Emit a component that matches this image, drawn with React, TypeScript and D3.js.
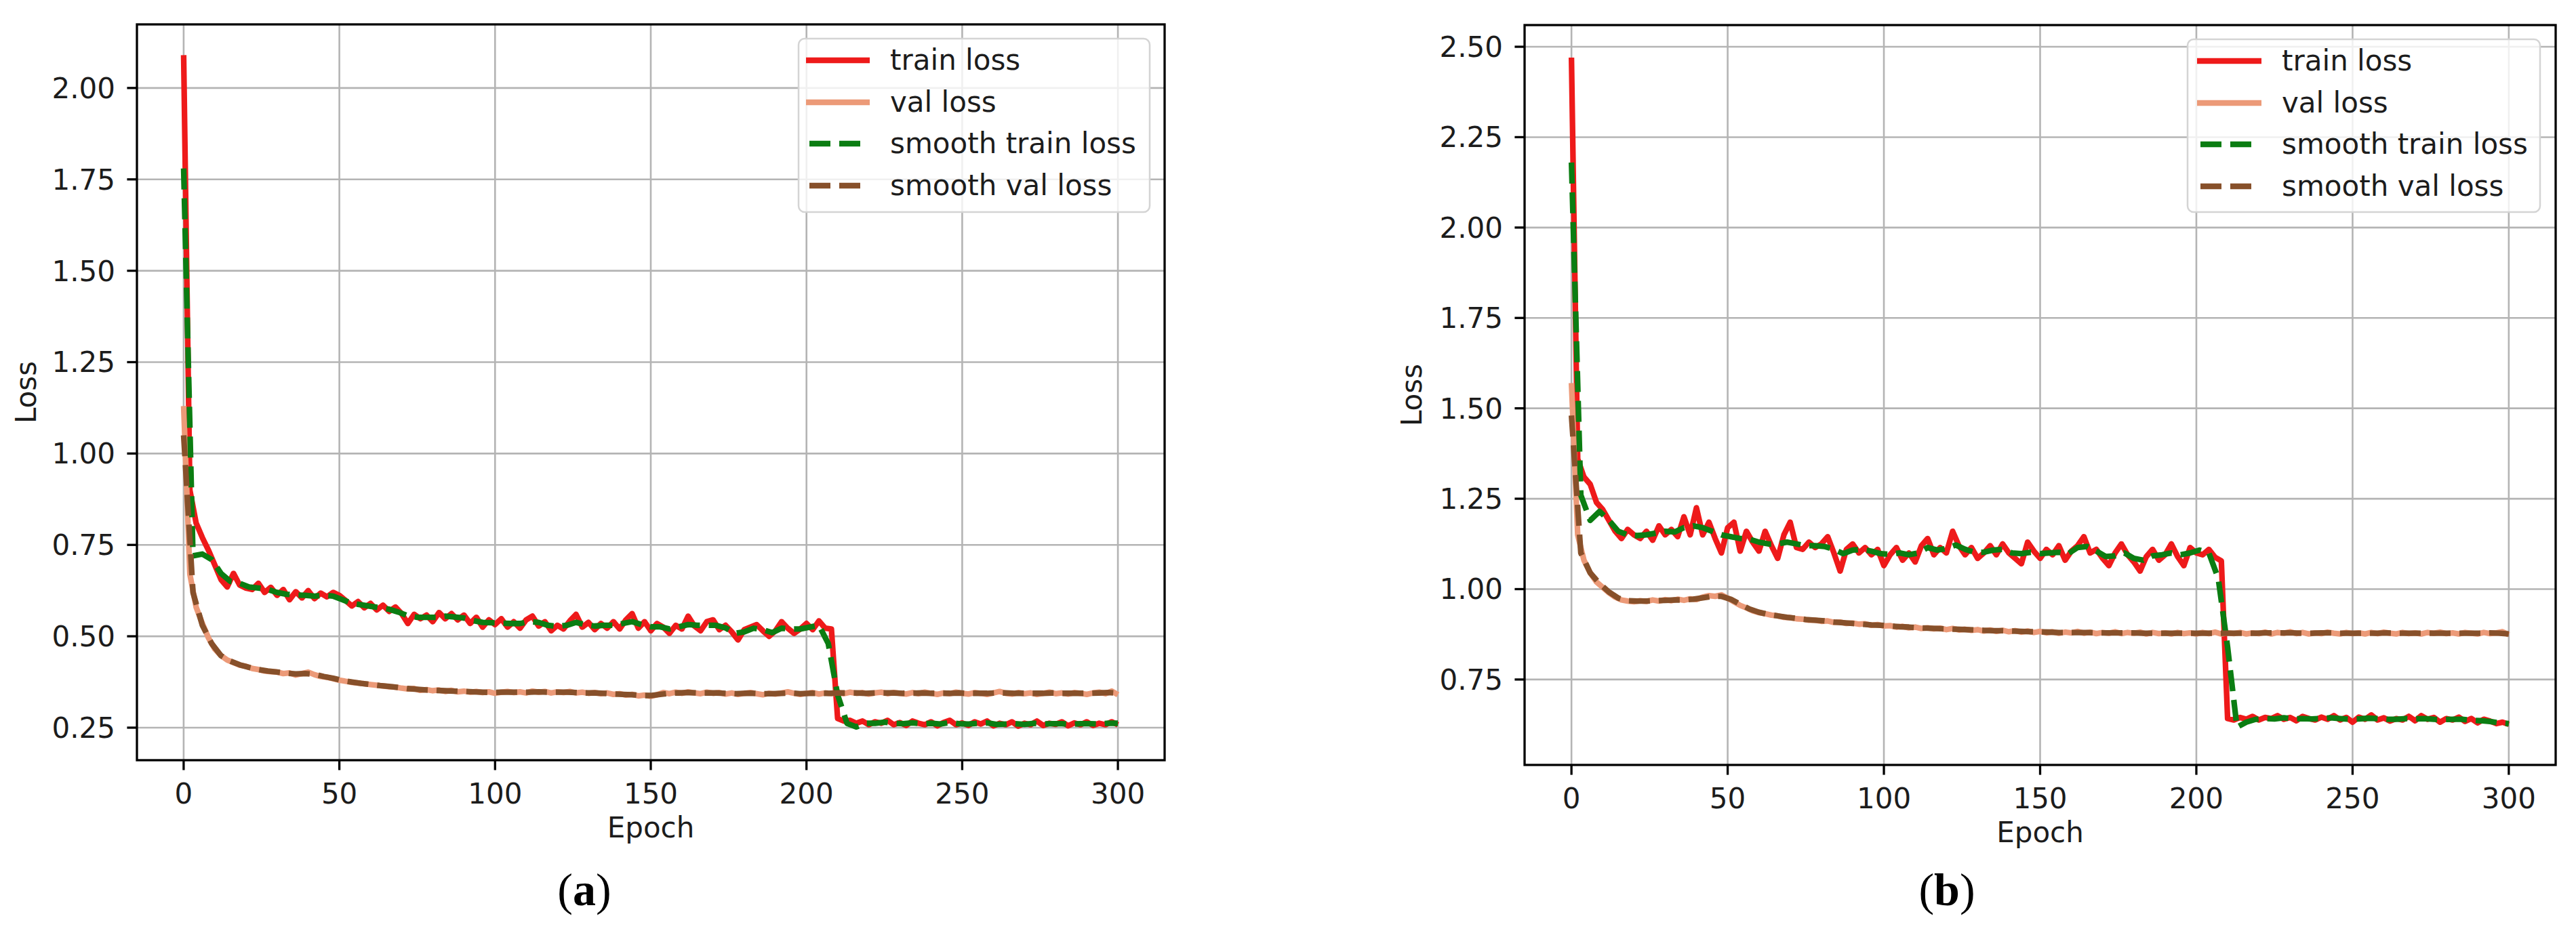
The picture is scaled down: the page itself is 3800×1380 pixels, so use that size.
import React from "react";
import * as d3 from "d3";

// ---------- tick labels / categories ----------
const xTickValues = [0, 50, 100, 150, 200, 250, 300];
const yTickValuesA = [0.25, 0.5, 0.75, 1.0, 1.25, 1.5, 1.75, 2.0];
const yTickValuesB = [0.75, 1.0, 1.25, 1.5, 1.75, 2.0, 2.25, 2.5];
const seriesNames = ["train loss", "val loss", "smooth train loss", "smooth val loss"];
const RAW_STEP = 2; // epochs between raw samples
const SMOOTH_STEP = 3; // epochs between smoothed samples

// ---------- panel (a) ----------
const trainLossA = [
  2.09, 0.9, 0.81, 0.77, 0.735, 0.695, 0.655, 0.635, 0.672, 0.64,
  0.632, 0.628, 0.645, 0.62, 0.634, 0.612, 0.628, 0.6, 0.622, 0.605,
  0.625, 0.603, 0.618, 0.608, 0.62, 0.612, 0.598, 0.583, 0.595, 0.578,
  0.59, 0.572, 0.585, 0.568, 0.58, 0.562, 0.535, 0.56, 0.548, 0.558,
  0.54, 0.565, 0.548, 0.562, 0.545, 0.558, 0.535, 0.552, 0.525, 0.545,
  0.532, 0.548, 0.525, 0.54, 0.522, 0.545, 0.555, 0.528, 0.54, 0.515,
  0.53, 0.52, 0.542, 0.56, 0.525, 0.538, 0.518, 0.535, 0.522, 0.54,
  0.52, 0.545, 0.562, 0.522, 0.54, 0.515, 0.535, 0.525, 0.508, 0.53,
  0.52, 0.555, 0.528, 0.515, 0.54, 0.545, 0.518, 0.53, 0.512, 0.49,
  0.518, 0.525, 0.532, 0.515, 0.5, 0.515, 0.54, 0.522, 0.508, 0.52,
  0.535, 0.518, 0.542, 0.522, 0.52, 0.275, 0.268, 0.27, 0.262, 0.268,
  0.258, 0.266, 0.262, 0.27, 0.258, 0.264, 0.256, 0.268, 0.262, 0.258,
  0.266, 0.255, 0.264, 0.27, 0.258, 0.263, 0.256, 0.266, 0.26, 0.268,
  0.255, 0.262, 0.258, 0.266, 0.254, 0.262, 0.258, 0.268, 0.256, 0.262,
  0.259, 0.266, 0.255, 0.263, 0.258, 0.266, 0.256, 0.262, 0.258, 0.266,
  0.258,
];
const valLossA = [
  1.13, 0.67, 0.58, 0.535, 0.495, 0.465, 0.447, 0.435, 0.428, 0.421,
  0.418, 0.412, 0.409, 0.405, 0.403, 0.402, 0.398, 0.4, 0.394, 0.398,
  0.402, 0.395, 0.39, 0.388, 0.384, 0.38, 0.377, 0.374, 0.372, 0.37,
  0.368, 0.366, 0.364, 0.362, 0.361, 0.358, 0.356, 0.357, 0.352, 0.354,
  0.351, 0.353, 0.349, 0.352, 0.348, 0.35, 0.347, 0.349, 0.346, 0.348,
  0.344, 0.347, 0.349, 0.346, 0.348, 0.345, 0.35, 0.347, 0.349, 0.345,
  0.348, 0.346, 0.349, 0.345, 0.347, 0.344, 0.346, 0.343, 0.345, 0.341,
  0.343, 0.339, 0.341, 0.337, 0.339, 0.336, 0.34, 0.346, 0.343, 0.347,
  0.344, 0.348, 0.345, 0.343, 0.347, 0.344, 0.346, 0.342, 0.345, 0.341,
  0.344, 0.346, 0.343, 0.34, 0.344, 0.342, 0.345, 0.348, 0.344, 0.341,
  0.344, 0.346, 0.342, 0.345, 0.343, 0.346, 0.343, 0.347, 0.344, 0.346,
  0.342, 0.345, 0.347, 0.343, 0.346, 0.344, 0.342, 0.346, 0.343, 0.347,
  0.344, 0.341, 0.345, 0.343, 0.347, 0.344, 0.342, 0.346, 0.344, 0.341,
  0.345, 0.349, 0.344, 0.342, 0.346, 0.343, 0.345, 0.341, 0.344, 0.347,
  0.343, 0.345, 0.342, 0.346, 0.344, 0.341, 0.345, 0.347, 0.343, 0.35,
  0.34,
];
const smoothTrainA = [
  1.78, 0.72, 0.725, 0.71, 0.672, 0.65, 0.645, 0.635, 0.632, 0.628,
  0.62, 0.615, 0.613, 0.612, 0.61, 0.612, 0.61, 0.6, 0.59, 0.586,
  0.582, 0.578, 0.574, 0.566, 0.556, 0.552, 0.552, 0.552, 0.555, 0.553,
  0.55, 0.543, 0.538, 0.537, 0.536, 0.535, 0.535, 0.54, 0.538, 0.53,
  0.527, 0.53, 0.538, 0.532, 0.528, 0.53, 0.53, 0.535, 0.54, 0.532,
  0.526, 0.526, 0.52, 0.526, 0.532, 0.53, 0.53, 0.53, 0.523, 0.508,
  0.512, 0.522, 0.518, 0.51, 0.522, 0.52, 0.52, 0.525, 0.53, 0.48,
  0.34, 0.262, 0.252, 0.262, 0.262, 0.265, 0.262, 0.261, 0.263, 0.261,
  0.262, 0.26, 0.264, 0.261, 0.26, 0.262, 0.263, 0.259, 0.26, 0.261,
  0.259, 0.262, 0.26, 0.261, 0.261, 0.259, 0.261, 0.261, 0.26, 0.262,
  0.262,
];
const smoothValA = [
  1.05, 0.62, 0.53, 0.48, 0.447, 0.432, 0.422, 0.415, 0.409, 0.405,
  0.402, 0.399, 0.397, 0.398, 0.396, 0.39, 0.385, 0.379, 0.375, 0.371,
  0.368, 0.365, 0.363, 0.36, 0.357, 0.355, 0.353, 0.352, 0.351, 0.35,
  0.349, 0.348, 0.347, 0.346, 0.347, 0.347, 0.347, 0.347, 0.348, 0.347,
  0.347, 0.347, 0.346, 0.345, 0.345, 0.344, 0.342, 0.341, 0.34, 0.338,
  0.338, 0.341, 0.344, 0.345, 0.346, 0.345, 0.345, 0.345, 0.344, 0.343,
  0.344, 0.344, 0.343, 0.343, 0.344, 0.345, 0.343, 0.344, 0.344, 0.344,
  0.345, 0.345, 0.345, 0.344, 0.345, 0.345, 0.345, 0.344, 0.344, 0.345,
  0.344, 0.344, 0.344, 0.345, 0.344, 0.344, 0.344, 0.345, 0.345, 0.344,
  0.344, 0.344, 0.344, 0.345, 0.344, 0.344, 0.344, 0.344, 0.345, 0.346,
  0.344,
];

// ---------- panel (b) ----------
const trainLossB = [
  2.47, 1.36, 1.31, 1.29, 1.24, 1.22, 1.19, 1.16, 1.14, 1.165,
  1.15, 1.14, 1.16, 1.135, 1.175, 1.15, 1.165, 1.145, 1.2, 1.15,
  1.225, 1.15, 1.185, 1.14, 1.1, 1.17, 1.185, 1.105, 1.16, 1.13,
  1.105, 1.16, 1.12, 1.085, 1.15, 1.185, 1.115, 1.11, 1.13, 1.115,
  1.125, 1.145, 1.1, 1.05, 1.11, 1.125, 1.1, 1.115, 1.095, 1.11,
  1.065, 1.095, 1.115, 1.08, 1.1, 1.075, 1.12, 1.14, 1.095, 1.115,
  1.1, 1.16, 1.12, 1.095, 1.115, 1.085, 1.1, 1.12, 1.095, 1.125,
  1.1, 1.085, 1.07, 1.13, 1.105, 1.085, 1.11, 1.095, 1.12, 1.08,
  1.105, 1.12, 1.145, 1.1, 1.11, 1.085, 1.065, 1.1, 1.125, 1.095,
  1.075, 1.05, 1.09, 1.11, 1.08, 1.095, 1.125, 1.09, 1.065, 1.115,
  1.1, 1.095, 1.11, 1.088, 1.078, 0.642, 0.638, 0.645, 0.64, 0.648,
  0.638, 0.645, 0.642, 0.65, 0.64, 0.645, 0.636, 0.648, 0.642, 0.638,
  0.646, 0.64, 0.65, 0.638, 0.645, 0.632, 0.646, 0.64, 0.652, 0.638,
  0.644, 0.635, 0.642, 0.638, 0.648, 0.636, 0.65, 0.64, 0.645, 0.632,
  0.642, 0.638, 0.646, 0.634, 0.642, 0.63, 0.64, 0.635, 0.628, 0.632,
  0.626,
];
const valLossB = [
  1.57, 1.15, 1.08, 1.045, 1.02, 1.005, 0.99, 0.978, 0.97, 0.967,
  0.965, 0.968, 0.966, 0.97, 0.967, 0.971, 0.968, 0.972, 0.969, 0.973,
  0.971, 0.978, 0.982, 0.98, 0.984, 0.975, 0.965, 0.955, 0.948, 0.94,
  0.935, 0.932, 0.928, 0.926, 0.922, 0.921, 0.918, 0.917, 0.914, 0.914,
  0.911, 0.912, 0.908, 0.909, 0.905, 0.906, 0.903, 0.904, 0.9, 0.902,
  0.898, 0.899, 0.895, 0.897, 0.893, 0.895, 0.891, 0.893, 0.89, 0.892,
  0.888, 0.891, 0.887, 0.889, 0.886, 0.888, 0.884, 0.887, 0.883, 0.886,
  0.882, 0.885, 0.881, 0.884, 0.88, 0.883, 0.879, 0.882, 0.878, 0.881,
  0.879, 0.883, 0.878, 0.881, 0.877, 0.88, 0.878, 0.882, 0.877, 0.88,
  0.878, 0.881, 0.876, 0.88, 0.877, 0.879, 0.876, 0.88, 0.877, 0.879,
  0.876, 0.88, 0.877, 0.881, 0.876, 0.879, 0.877, 0.88, 0.876, 0.879,
  0.877, 0.881, 0.876, 0.88, 0.878, 0.882, 0.877, 0.88, 0.876, 0.879,
  0.877, 0.881, 0.878, 0.876, 0.88, 0.877, 0.879, 0.876, 0.88, 0.877,
  0.881, 0.878, 0.876, 0.88, 0.877, 0.879, 0.876, 0.88, 0.878, 0.881,
  0.877, 0.879, 0.876, 0.88, 0.878, 0.876, 0.88, 0.877, 0.879, 0.882,
  0.874,
];
const smoothTrainB = [
  2.18, 1.26, 1.19, 1.215, 1.19, 1.16, 1.15, 1.148, 1.15, 1.155,
  1.16, 1.158, 1.17, 1.175, 1.17, 1.16, 1.15, 1.145, 1.14, 1.138,
  1.13, 1.125, 1.125, 1.13, 1.125, 1.12, 1.12, 1.118, 1.11, 1.098,
  1.108, 1.11, 1.105, 1.098, 1.096, 1.1, 1.095, 1.1, 1.115, 1.108,
  1.112, 1.122, 1.11, 1.102, 1.102, 1.108, 1.11, 1.1, 1.098, 1.102,
  1.098, 1.1, 1.102, 1.098, 1.115, 1.118, 1.105, 1.09, 1.092, 1.1,
  1.085, 1.08, 1.092, 1.095, 1.1, 1.095, 1.1, 1.108, 1.1, 1.03,
  0.84, 0.618, 0.632, 0.64, 0.642, 0.641, 0.644, 0.641, 0.642, 0.641,
  0.642, 0.644, 0.642, 0.64, 0.641, 0.643, 0.642, 0.64, 0.64, 0.642,
  0.641, 0.642, 0.64, 0.639, 0.64, 0.64, 0.637, 0.636, 0.634, 0.63,
  0.628,
];
const smoothValB = [
  1.48, 1.1, 1.045, 1.015, 0.992, 0.975, 0.968, 0.967, 0.967, 0.968,
  0.969, 0.97, 0.97, 0.972, 0.976, 0.98, 0.98, 0.972, 0.958, 0.945,
  0.936, 0.93, 0.926, 0.922, 0.919, 0.916, 0.914, 0.912, 0.909, 0.907,
  0.905, 0.903, 0.901, 0.9, 0.898, 0.896, 0.895, 0.893, 0.892, 0.891,
  0.89, 0.889, 0.888, 0.887, 0.886, 0.885, 0.885, 0.884, 0.883, 0.882,
  0.882, 0.881, 0.88, 0.88, 0.88, 0.88, 0.879, 0.879, 0.879, 0.879,
  0.879, 0.878, 0.878, 0.878, 0.878, 0.878, 0.878, 0.878, 0.878, 0.878,
  0.878, 0.878, 0.878, 0.878, 0.879, 0.879, 0.879, 0.879, 0.878, 0.878,
  0.879, 0.879, 0.878, 0.878, 0.878, 0.878, 0.878, 0.879, 0.878, 0.878,
  0.878, 0.878, 0.878, 0.878, 0.878, 0.878, 0.878, 0.878, 0.879, 0.878,
  0.876,
];

// ---------- styling ----------
const COLORS = {
  train: "#ee1a1a",
  val: "#ec9a78",
  smoothTrain: "#0b7d12",
  smoothVal: "#87502a",
};
const FONT = "'DejaVu Sans', sans-serif";
const TEXT = "#1c1c1c";
const LW = 8.3;
const DASH = "31 13";

type Legend = { x0: number; x1: number; y0: number; y1: number; sx0: number; sx1: number; tx: number; rows: number[] };
type Layout = {
  left: number; right: number; top: number; bottom: number;
  yLabelX: number; xLabelY: number; xTickY: number;
  capX: number; capY: number; legend: Legend;
};
type PanelProps = {
  id: string; L: Layout; yDomain: [number, number]; yTicks: number[];
  train: number[]; val: number[]; smoothTrain: number[]; smoothVal: number[]; caption: string;
};

function Panel(p: PanelProps) {
  const { L } = p;
  const x = d3.scaleLinear().domain([-15, 315]).range([L.left, L.right]);
  const y = d3.scaleLinear().domain(p.yDomain).range([L.bottom, L.top]);
  const mk = (vals: number[], step: number) =>
    d3.line<number>().x((_, i) => x(i * step)).y((d) => y(d))(vals) ?? "";
  const clipId = `clip-${p.id}`;
  const tickLen = 14.6;
  const fmt = d3.format(".2f");
  const lg = L.legend;
  const legendStyles = [
    { c: COLORS.train, dash: undefined as string | undefined },
    { c: COLORS.val, dash: undefined },
    { c: COLORS.smoothTrain, dash: DASH },
    { c: COLORS.smoothVal, dash: DASH },
  ];
  return (
    <g>
      <defs>
        <clipPath id={clipId}>
          <rect x={L.left} y={L.top} width={L.right - L.left} height={L.bottom - L.top} />
        </clipPath>
      </defs>
      <g stroke="#b4b4b4" strokeWidth={2.6}>
        {xTickValues.map((t) => (
          <line key={"gx" + t} x1={x(t)} x2={x(t)} y1={L.top} y2={L.bottom} />
        ))}
        {p.yTicks.map((t) => (
          <line key={"gy" + t} x1={L.left} x2={L.right} y1={y(t)} y2={y(t)} />
        ))}
      </g>
      <g clipPath={`url(#${clipId})`} fill="none" strokeLinejoin="round">
        <path d={mk(p.train, RAW_STEP)} stroke={COLORS.train} strokeWidth={LW} />
        <path d={mk(p.val, RAW_STEP)} stroke={COLORS.val} strokeWidth={LW} />
        <path d={mk(p.smoothTrain, SMOOTH_STEP)} stroke={COLORS.smoothTrain} strokeWidth={LW} strokeDasharray={DASH} />
        <path d={mk(p.smoothVal, SMOOTH_STEP)} stroke={COLORS.smoothVal} strokeWidth={LW} strokeDasharray={DASH} />
      </g>
      <rect x={L.left} y={L.top} width={L.right - L.left} height={L.bottom - L.top} fill="none" stroke="#000" strokeWidth={3.3} />
      <g stroke="#000" strokeWidth={3.3}>
        {xTickValues.map((t) => (
          <line key={"tx" + t} x1={x(t)} x2={x(t)} y1={L.bottom} y2={L.bottom + tickLen} />
        ))}
        {p.yTicks.map((t) => (
          <line key={"ty" + t} x1={L.left - tickLen} x2={L.left} y1={y(t)} y2={y(t)} />
        ))}
      </g>
      <g fontFamily={FONT} fontSize={42} fill={TEXT}>
        {xTickValues.map((t) => (
          <text key={"lx" + t} x={x(t)} y={L.xTickY} textAnchor="middle">{t}</text>
        ))}
        {p.yTicks.map((t) => (
          <text key={"ly" + t} x={L.left - 32} y={y(t) + 15} textAnchor="end">{fmt(t)}</text>
        ))}
        <text x={(L.left + L.right) / 2} y={L.xLabelY} textAnchor="middle">Epoch</text>
        <text
          transform={`translate(${L.yLabelX},${(L.top + L.bottom) / 2}) rotate(-90)`}
          textAnchor="middle"
        >
          Loss
        </text>
      </g>
      <g>
        <rect x={lg.x0} y={lg.y0} width={lg.x1 - lg.x0} height={lg.y1 - lg.y0} rx={9} ry={9}
          fill="#fff" fillOpacity={0.8} stroke="#d4d4d4" strokeWidth={2.5} />
        {seriesNames.map((name, i) => (
          <g key={name}>
            <line
              x1={legendStyles[i].dash ? lg.sx0 + 5 : lg.sx0}
              x2={legendStyles[i].dash ? lg.sx1 - 10 : lg.sx1}
              y1={lg.rows[i]} y2={lg.rows[i]}
              stroke={legendStyles[i].c} strokeWidth={LW}
              strokeDasharray={legendStyles[i].dash}
            />
            <text x={lg.tx} y={lg.rows[i] + 14} fontFamily={FONT} fontSize={42} fill={TEXT}>{name}</text>
          </g>
        ))}
      </g>
      <text x={L.capX} y={L.capY} textAnchor="middle" fontFamily="'Liberation Serif', 'DejaVu Serif', serif" fontSize={68} fill="#000">
        (<tspan fontWeight="bold">{p.caption}</tspan>)
      </text>
    </g>
  );
}

const layoutA: Layout = {
  left: 202, right: 1718, top: 36, bottom: 1122,
  yLabelX: 53, xLabelY: 1236, xTickY: 1186, capX: 862, capY: 1336,
  legend: { x0: 1178, x1: 1696, y0: 57, y1: 313, sx0: 1189, sx1: 1283, tx: 1313, rows: [89, 151, 212, 274] },
};
const layoutB: Layout = {
  left: 2249, right: 3770, top: 37, bottom: 1129,
  yLabelX: 2097, xLabelY: 1243, xTickY: 1193, capX: 2872, capY: 1336,
  legend: { x0: 3227, x1: 3747, y0: 58, y1: 313, sx0: 3241, sx1: 3336, tx: 3366, rows: [90, 152, 213, 275] },
};

export default function App() {
  return (
    <svg width={3800} height={1380} viewBox="0 0 3800 1380"
      style={{ position: "absolute", left: 0, top: 0, background: "#fff" }}>
      <rect x={0} y={0} width={3800} height={1380} fill="#fff" />
      <Panel id="a" L={layoutA} yDomain={[0.161, 2.174]} yTicks={yTickValuesA}
        train={trainLossA} val={valLossA} smoothTrain={smoothTrainA} smoothVal={smoothValA} caption="a" />
      <Panel id="b" L={layoutB} yDomain={[0.5137, 2.56]} yTicks={yTickValuesB}
        train={trainLossB} val={valLossB} smoothTrain={smoothTrainB} smoothVal={smoothValB} caption="b" />
    </svg>
  );
}
